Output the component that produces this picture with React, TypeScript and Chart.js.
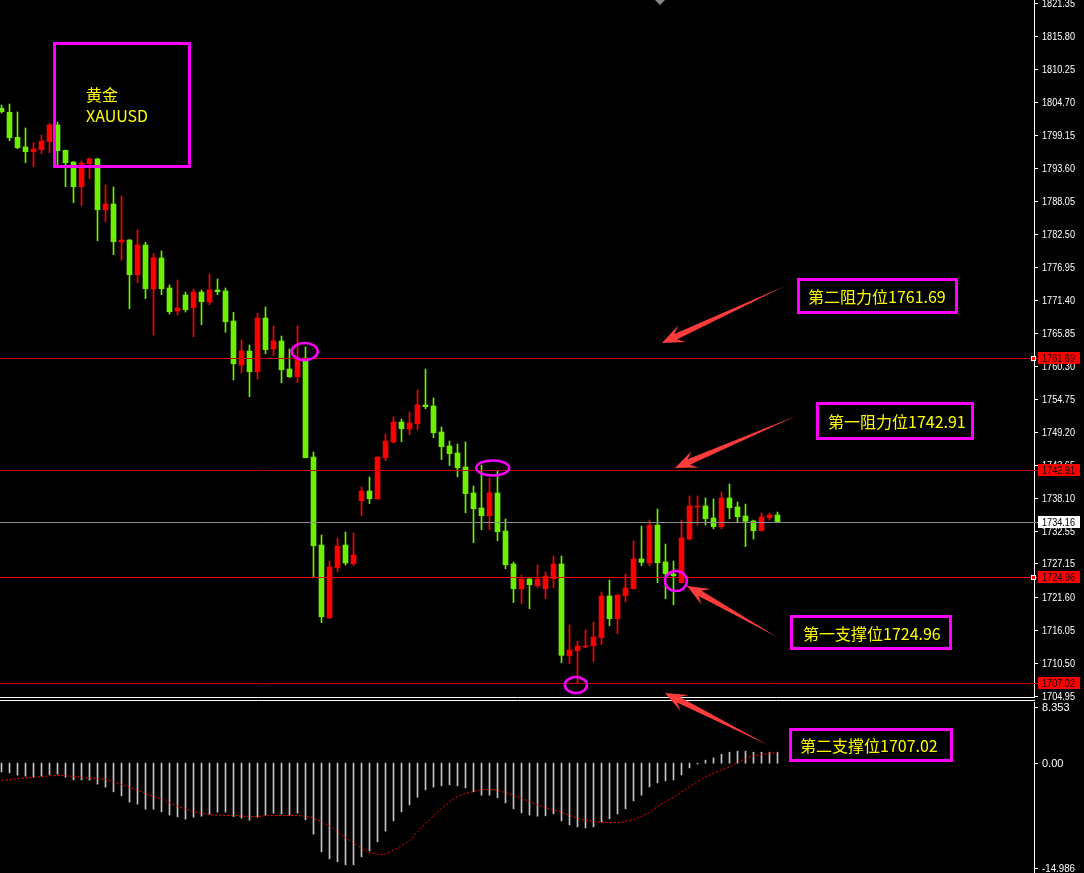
import React, { useEffect, useRef } from "react";
import { Chart, registerables } from "chart.js";

Chart.register(...registerables);

// ---------- DATA ----------
const openPrices = [
  1803.65, 1802.98, 1798.77, 1797.14, 1796.35, 1796.69, 1798.03, 1800.84, 1796.59, 1794.62,
  1790.47, 1794.34, 1795.13, 1786.61, 1787.56, 1781.18, 1781.51, 1775.68, 1780.67, 1773.28,
  1778.49, 1773.45, 1769.58, 1772.27, 1770.13, 1772.77, 1771.09, 1773.11, 1772.94, 1767.90,
  1760.50, 1762.86, 1759.38, 1768.40, 1763.20, 1764.54, 1759.83, 1758.54, 1761.68, 1745.04,
  1730.25, 1718.03, 1726.44, 1730.25, 1727.11, 1737.70, 1739.33, 1737.98, 1744.92, 1747.56,
  1750.92, 1749.75, 1750.64, 1753.78, 1753.61, 1749.24, 1746.89, 1745.72, 1743.36, 1739.00,
  1736.47, 1735.18, 1739.00, 1732.60, 1727.06, 1722.91, 1724.54, 1723.41, 1722.91, 1724.59,
  1727.06, 1711.64, 1712.49, 1713.11, 1713.33, 1714.67, 1721.68, 1717.87, 1721.73, 1722.91,
  1727.90, 1727.23, 1733.61, 1727.40, 1725.38, 1723.92, 1731.26, 1736.64, 1736.81, 1734.79,
  1733.33, 1738.15, 1736.64, 1735.13, 1734.29, 1732.66, 1734.84, 1735.29,
];
const highPrices = [
  1804.20, 1804.37, 1803.03, 1800.34, 1797.87, 1799.16, 1801.13, 1801.35, 1796.64, 1794.70,
  1794.79, 1795.34, 1795.29, 1790.76, 1790.42, 1788.91, 1781.60, 1783.19, 1781.13, 1779.21,
  1779.66, 1773.95, 1774.79, 1772.77, 1773.28, 1773.11, 1775.80, 1774.96, 1773.45, 1769.36,
  1764.71, 1763.87, 1769.19, 1770.25, 1767.06, 1765.38, 1763.20, 1767.06, 1763.53, 1745.88,
  1731.93, 1727.56, 1731.43, 1732.44, 1732.27, 1740.00, 1741.68, 1745.04, 1748.91, 1751.76,
  1751.43, 1752.61, 1756.30, 1759.83, 1754.96, 1750.09, 1747.73, 1747.23, 1747.56, 1740.17,
  1743.70, 1741.51, 1742.69, 1734.62, 1727.40, 1725.21, 1724.60, 1726.89, 1725.72, 1728.40,
  1728.40, 1716.81, 1714.12, 1715.97, 1717.31, 1722.35, 1724.37, 1721.90, 1725.38, 1730.92,
  1733.45, 1734.45, 1736.30, 1730.42, 1727.56, 1734.45, 1738.49, 1738.49, 1738.15, 1737.98,
  1739.16, 1740.50, 1737.48, 1737.14, 1734.45, 1735.63, 1735.63, 1735.80,
];
const lowPrices = [
  1802.86, 1798.20, 1796.86, 1794.50, 1793.83, 1796.02, 1796.19, 1793.83, 1790.47, 1787.78,
  1787.28, 1791.82, 1781.40, 1784.59, 1779.04, 1778.15, 1769.97, 1774.34, 1771.65, 1765.55,
  1772.32, 1769.08, 1768.91, 1769.41, 1765.26, 1767.28, 1770.64, 1772.32, 1766.00, 1757.98,
  1759.21, 1755.18, 1758.15, 1762.41, 1762.07, 1757.53, 1758.37, 1757.53, 1744.90, 1724.76,
  1717.19, 1717.86, 1725.77, 1726.89, 1726.77, 1735.18, 1737.19, 1737.98, 1744.42, 1747.40,
  1747.61, 1748.79, 1749.63, 1753.16, 1748.29, 1744.59, 1743.58, 1741.73, 1735.68, 1730.64,
  1732.83, 1732.83, 1730.98, 1726.27, 1720.56, 1720.39, 1719.55, 1723.08, 1721.23, 1723.08,
  1710.47, 1710.30, 1707.02, 1713.00, 1710.64, 1713.50, 1716.69, 1715.35, 1720.72, 1722.85,
  1726.77, 1726.77, 1723.92, 1721.23, 1720.22, 1723.85, 1731.09, 1733.61, 1733.61, 1732.99,
  1732.99, 1734.67, 1734.00, 1729.97, 1731.26, 1732.60, 1734.45, 1734.16,
];
const closePrices = [
  1803.08, 1798.71, 1797.03, 1796.35, 1796.81, 1798.15, 1800.84, 1796.52, 1794.50, 1790.47,
  1794.45, 1795.13, 1786.61, 1787.56, 1781.23, 1781.51, 1775.68, 1780.67, 1773.33, 1778.54,
  1773.33, 1769.46, 1770.08, 1769.80, 1772.77, 1771.14, 1773.11, 1772.82, 1767.78, 1760.72,
  1762.86, 1759.38, 1768.40, 1763.08, 1764.54, 1759.71, 1758.54, 1761.68, 1744.92, 1730.13,
  1718.20, 1726.55, 1730.08, 1727.23, 1728.57, 1739.33, 1738.03, 1745.04, 1747.73, 1750.92,
  1749.80, 1750.76, 1753.78, 1753.50, 1749.13, 1746.77, 1745.60, 1743.24, 1738.88, 1736.35,
  1735.18, 1739.00, 1732.49, 1726.94, 1722.91, 1724.54, 1723.58, 1724.54, 1725.04, 1727.06,
  1711.71, 1712.60, 1713.28, 1713.28, 1714.79, 1721.68, 1717.87, 1721.85, 1723.03, 1727.90,
  1727.35, 1733.61, 1727.28, 1725.43, 1725.09, 1731.43, 1736.81, 1736.81, 1734.67, 1733.33,
  1738.15, 1736.52, 1735.01, 1734.24, 1732.66, 1734.96, 1735.29, 1734.16,
];
const macdHistogram = [
  -1.19, -1.32, -1.64, -1.77, -1.91, -1.77, -1.55, -1.50, -1.91, -2.27,
  -2.27, -2.32, -2.86, -3.27, -3.91, -4.46, -5.32, -5.59, -6.28, -6.28,
  -6.64, -7.09, -7.32, -7.64, -7.37, -7.23, -6.96, -6.68, -6.68, -7.28,
  -7.50, -7.78, -7.37, -7.09, -6.82, -6.96, -7.09, -6.82, -7.73, -9.69,
  -12.10, -13.05, -13.46, -13.87, -13.87, -12.78, -11.96, -10.73, -9.28, -7.87,
  -6.64, -5.68, -4.64, -3.64, -3.27, -3.09, -2.95, -3.09, -3.37, -3.91,
  -4.37, -4.37, -4.73, -5.41, -6.23, -6.78, -7.09, -7.23, -7.19, -6.92,
  -7.87, -8.42, -8.69, -8.83, -8.69, -8.01, -7.60, -6.92, -6.23, -5.14,
  -4.37, -3.23, -2.69, -2.41, -2.28, -1.60, -0.64, -0.10, 0.41, 0.72,
  1.23, 1.50, 1.64, 1.64, 1.50, 1.50, 1.50, 1.50,
];
const macdSignal = [
  -2.35, -2.25, -2.09, -2.00, -1.95, -1.85, -1.72, -1.68, -1.70, -1.80,
  -1.93, -2.02, -2.09, -2.20, -2.55, -2.90, -3.30, -3.68, -4.15, -4.55,
  -4.90, -5.40, -5.85, -6.25, -6.60, -6.85, -7.00, -7.10, -7.14, -7.14,
  -7.22, -7.28, -7.28, -7.16, -7.14, -7.14, -7.14, -7.14, -7.25, -7.50,
  -8.00, -8.55, -9.35, -10.15, -10.90, -11.60, -12.15, -12.46, -12.40, -11.90,
  -11.25, -10.55, -9.35, -8.25, -7.15, -6.20, -5.25, -4.55, -4.15, -3.85,
  -3.62, -3.59, -3.70, -3.98, -4.45, -4.80, -5.20, -5.65, -6.10, -6.40,
  -6.70, -7.10, -7.50, -7.80, -7.95, -8.08, -8.09, -8.09, -7.95, -7.70,
  -7.25, -6.75, -5.90, -5.25, -4.65, -3.95, -3.20, -2.50, -1.85, -1.35,
  -0.90, -0.55, 0.10, 0.60, 1.00, 1.20, 1.35, 1.45,
];
const priceTickLabels = [
  "1821.35", "1815.80", "1810.25", "1804.70", "1799.15", "1793.60", "1788.05", "1782.50",
  "1776.95", "1771.40", "1765.85", "1760.30", "1754.75", "1749.20", "1743.65", "1738.10",
  "1732.55", "1727.15", "1721.60", "1716.05", "1710.50", "1704.95",
];
const macdTickLabels = ["8.353", "0.00", "-14.986"];
const levelValues = [1761.69, 1742.91, 1724.96, 1707.02];
const levelNames = ["第二阻力位", "第一阻力位", "第一支撑位", "第二支撑位"];
const lastPrice = 1734.16;
const symbolLines = ["黄金", "XAUUSD"];
const priceMin = 1704.71;
const priceMax = 1821.85;

// ---------- STYLE / LAYOUT ----------
const GREEN = "#6cf000";
const RED = "#ff0000";
const X_MIN = -0.1875;
const X_MAX = 129.0625;
const AXIS_W = 50;
const AXIS_FONT = '11px "Liberation Sans", "DejaVu Sans", sans-serif';
const LABEL_W = 33;
const MAIN_H = 702;
const MACD_H = 171;

const candleIdx = openPrices.map((_, i) => i);
const candleColors = candleIdx.map((i) => (closePrices[i] < openPrices[i] ? GREEN : RED));

// annotation markers anchored on data coordinates (index, price)
const ellipses = [
  { i: 37.9, p: 1762.77, rx: 13, ry: 8.5 },
  { i: 61.4, p: 1743.19, rx: 16.5, ry: 7.5 },
  { i: 84.3, p: 1724.2, rx: 11, ry: 10 },
  { i: 71.8, p: 1706.72, rx: 11, ry: 8 },
];
const levelLineColors = ["#c80000", "#c80000", "#ff0000", "#c80000"];

const arrows = [
  [785, 286, 662, 343],
  [796, 416, 675, 468],
  [777, 637, 687, 586],
  [768, 745, 665, 693],
];

const boxes = [
  { left: 797, top: 278, w: 161, h: 36, pad: 8 },
  { left: 816, top: 402, w: 158, h: 38, pad: 9 },
  { left: 790, top: 615, w: 162, h: 35, pad: 10 },
  { left: 789, top: 728, w: 164, h: 34, pad: 8 },
];

const mainOverlay = {
  id: "mainOverlay",
  afterDatasetsDraw(chart: any) {
    const { ctx, chartArea: a, scales } = chart;
    const x = scales.x;
    const y = scales.y;
    ctx.save();
    levelValues.forEach((lv, k) => {
      const py = Math.round(y.getPixelForValue(lv)) + 0.5;
      ctx.strokeStyle = levelLineColors[k];
      ctx.lineWidth = 1;
      ctx.beginPath();
      ctx.moveTo(a.left, py);
      ctx.lineTo(a.right, py);
      ctx.stroke();
    });
    const lp = Math.round(y.getPixelForValue(lastPrice)) + 0.5;
    ctx.strokeStyle = "#8c8c8c";
    ctx.beginPath();
    ctx.moveTo(a.left, lp);
    ctx.lineTo(a.right, lp);
    ctx.stroke();
    ctx.strokeStyle = "#ff00ff";
    ctx.lineWidth = 2.5;
    ellipses.forEach((e) => {
      ctx.beginPath();
      ctx.ellipse(x.getPixelForValue(e.i), y.getPixelForValue(e.p), e.rx, e.ry, 0, 0, Math.PI * 2);
      ctx.stroke();
    });
    ctx.restore();
  },
  afterDraw(chart: any) {
    const { ctx, chartArea: a, scales } = chart;
    const y = scales.y;
    ctx.save();
    ctx.font = AXIS_FONT;
    ctx.textBaseline = "middle";
    ctx.textAlign = "left";
    ctx.strokeStyle = "#ffffff";
    ctx.fillStyle = "#ffffff";
    ctx.lineWidth = 1;
    priceTickLabels.forEach((lab) => {
      const py = Math.round(y.getPixelForValue(Number(lab))) + 0.5;
      ctx.beginPath();
      ctx.moveTo(a.right, py);
      ctx.lineTo(a.right + 4, py);
      ctx.stroke();
      ctx.fillText(lab, a.right + 8, py, LABEL_W);
    });
    levelValues.forEach((lv, k) => {
      const py = Math.round(y.getPixelForValue(lv));
      ctx.fillStyle = "#ff0000";
      ctx.fillRect(a.right + 4, py - 6, 42, 12);
      ctx.fillStyle = "#000000";
      ctx.fillText(lv.toFixed(2), a.right + 8, py + 0.5, LABEL_W);
      ctx.strokeStyle = "#c80000";
      ctx.beginPath();
      ctx.moveTo(a.right, py + 0.5);
      ctx.lineTo(a.right + 4, py + 0.5);
      ctx.stroke();
      if (k === 0 || k === 2) {
        ctx.fillStyle = "#ff0000";
        ctx.fillRect(a.right - 3, py - 2, 5, 5);
        ctx.strokeStyle = "#ffffff";
        ctx.strokeRect(a.right - 2.5, py - 1.5, 4, 4);
      }
    });
    const lp = Math.round(y.getPixelForValue(lastPrice));
    ctx.fillStyle = "#ffffff";
    ctx.fillRect(a.right + 4, lp - 6, 42, 12);
    ctx.fillStyle = "#000000";
    ctx.fillText(lastPrice.toFixed(2), a.right + 8, lp + 0.5, LABEL_W);
    ctx.strokeStyle = "#8c8c8c";
    ctx.beginPath();
    ctx.moveTo(a.right, lp + 0.5);
    ctx.lineTo(a.right + 4, lp + 0.5);
    ctx.stroke();
    ctx.strokeStyle = "#ffffff";
    ctx.beginPath();
    ctx.moveTo(0, a.bottom + 0.5);
    ctx.lineTo(a.right + 1, a.bottom + 0.5);
    ctx.moveTo(0, a.bottom + 3.5);
    ctx.lineTo(a.right + 1, a.bottom + 3.5);
    ctx.stroke();
    ctx.restore();
  },
};

const macdOverlay = {
  id: "macdOverlay",
  afterDraw(chart: any) {
    const { ctx, chartArea: a, scales } = chart;
    const y = scales.y;
    ctx.save();
    ctx.font = AXIS_FONT;
    ctx.textAlign = "left";
    ctx.fillStyle = "#ffffff";
    ctx.strokeStyle = "#ffffff";
    ctx.lineWidth = 1;
    macdTickLabels.forEach((lab, k) => {
      let py = y.getPixelForValue(Number(lab));
      if (k === 0) py += 5;
      if (k === macdTickLabels.length - 1) py -= 5;
      py = Math.round(py) + 0.5;
      ctx.beginPath();
      ctx.moveTo(a.right, py);
      ctx.lineTo(a.right + 4, py);
      ctx.stroke();
      ctx.textBaseline = "middle";
      ctx.fillText(lab, a.right + 8, py, LABEL_W);
    });
    ctx.restore();
  },
};

function drawArrow(ctx: CanvasRenderingContext2D, tx: number, ty: number, px: number, py: number) {
  const dx = px - tx;
  const dy = py - ty;
  const len = Math.hypot(dx, dy);
  const ux = dx / len;
  const uy = dy / len;
  const nx = -uy;
  const ny = ux;
  const headLen = 22;
  const headW = 9;
  const neckW = 3;
  const notch = 15;
  const hx = px - ux * headLen;
  const hy = py - uy * headLen;
  const bx = px - ux * notch;
  const by = py - uy * notch;
  ctx.beginPath();
  ctx.moveTo(tx, ty);
  ctx.lineTo(bx + nx * neckW, by + ny * neckW);
  ctx.lineTo(hx + nx * headW, hy + ny * headW);
  ctx.lineTo(px, py);
  ctx.lineTo(hx - nx * headW, hy - ny * headW);
  ctx.lineTo(bx - nx * neckW, by - ny * neckW);
  ctx.closePath();
  ctx.fill();
}

export default function App() {
  const mainRef = useRef<HTMLCanvasElement>(null);
  const macdRef = useRef<HTMLCanvasElement>(null);
  const overRef = useRef<HTMLCanvasElement>(null);

  useEffect(() => {
    document.body.style.margin = "0";
    document.body.style.background = "#000";
    const yAxisBase = (min: number, max: number) => ({
      position: "right" as const,
      min,
      max,
      grid: { display: false, drawTicks: false },
      ticks: { display: false },
      border: { display: true, color: "#ffffff", width: 1 },
      afterFit: (s: any) => {
        s.width = AXIS_W;
      },
    });
    const xAxis = { type: "linear" as const, min: X_MIN, max: X_MAX, display: false, offset: false };

    const main = new Chart(mainRef.current!, {
      type: "bar",
      data: {
        datasets: [
          {
            label: "body",
            data: candleIdx.map((i) => ({ x: i, y: [openPrices[i], closePrices[i]] })) as any,
            backgroundColor: candleColors,
            borderWidth: 0,
            barThickness: 5,
            minBarLength: 1,
            grouped: false,
            order: 1,
          } as any,
          {
            label: "wick",
            data: candleIdx.map((i) => ({ x: i, y: [lowPrices[i], highPrices[i]] })) as any,
            backgroundColor: candleColors,
            borderWidth: 0,
            barThickness: 1,
            grouped: false,
            order: 2,
          } as any,
        ],
      },
      options: {
        animation: false,
        responsive: false,
        maintainAspectRatio: false,
        layout: { padding: { left: 0, right: 0, top: 0, bottom: 5 }, autoPadding: false } as any,
        plugins: { legend: { display: false }, tooltip: { enabled: false } },
        scales: { x: xAxis, y: yAxisBase(priceMin, priceMax) } as any,
      },
      plugins: [mainOverlay],
    });

    const macdMin = Number(macdTickLabels[macdTickLabels.length - 1]);
    const macdMax = Number(macdTickLabels[0]);
    const macd = new Chart(macdRef.current!, {
      type: "bar",
      data: {
        datasets: [
          {
            type: "line",
            label: "signal",
            data: candleIdx.map((i) => ({ x: i, y: macdSignal[i] })) as any,
            borderColor: "#ff0000",
            borderWidth: 1,
            borderDash: [2, 2],
            pointRadius: 0,
            tension: 0,
            order: 1,
          } as any,
          {
            type: "bar",
            label: "macd",
            data: candleIdx.map((i) => ({ x: i, y: macdHistogram[i] })) as any,
            backgroundColor: "#c4c4c4",
            borderWidth: 0,
            barThickness: 1,
            grouped: false,
            order: 2,
          } as any,
        ],
      },
      options: {
        animation: false,
        responsive: false,
        maintainAspectRatio: false,
        layout: { padding: 0, autoPadding: false } as any,
        plugins: { legend: { display: false }, tooltip: { enabled: false } },
        scales: { x: xAxis, y: yAxisBase(macdMin, macdMax) } as any,
      },
      plugins: [macdOverlay],
    });

    const oc = overRef.current!.getContext("2d")!;
    oc.clearRect(0, 0, 1084, 873);
    oc.fillStyle = "#ff3c3c";
    arrows.forEach(([tx, ty, px, py]) => drawArrow(oc, tx, ty, px, py));
    oc.fillStyle = "#8a8a8a";
    oc.beginPath();
    oc.moveTo(655, 0);
    oc.lineTo(665, 0);
    oc.lineTo(660, 5);
    oc.closePath();
    oc.fill();

    return () => {
      main.destroy();
      macd.destroy();
    };
  }, []);

  const textFont = '"Noto Sans CJK SC", "Noto Sans", sans-serif';

  return (
    <div
      style={{
        position: "fixed",
        left: 0,
        top: 0,
        width: 1084,
        height: 873,
        background: "#000",
        overflow: "hidden",
      }}
    >
      <canvas ref={mainRef} width={1084} height={MAIN_H} style={{ position: "absolute", left: 0, top: 0 }} />
      <canvas ref={macdRef} width={1084} height={MACD_H} style={{ position: "absolute", left: 0, top: MAIN_H }} />
      <canvas
        ref={overRef}
        width={1084}
        height={873}
        style={{ position: "absolute", left: 0, top: 0, pointerEvents: "none" }}
      />
      <div
        style={{
          position: "absolute",
          left: 53,
          top: 42,
          width: 138,
          height: 126,
          boxSizing: "border-box",
          border: "3px solid #ff00ff",
          paddingLeft: 30,
          paddingTop: 39,
          color: "#ffff00",
          fontFamily: textFont,
          fontSize: 16,
          lineHeight: "21px",
        }}
      >
        {symbolLines.map((s) => (
          <div key={s}>{s}</div>
        ))}
      </div>
      {boxes.map((b, k) => (
        <div
          key={k}
          style={{
            position: "absolute",
            left: b.left,
            top: b.top,
            width: b.w,
            height: b.h,
            boxSizing: "border-box",
            border: "3px solid #ff00ff",
            paddingLeft: b.pad,
            display: "flex",
            alignItems: "center",
            color: "#ffff00",
            fontFamily: textFont,
            fontSize: 16,
            whiteSpace: "nowrap",
          }}
        >
          {levelNames[k] + levelValues[k].toFixed(2)}
        </div>
      ))}
    </div>
  );
}
